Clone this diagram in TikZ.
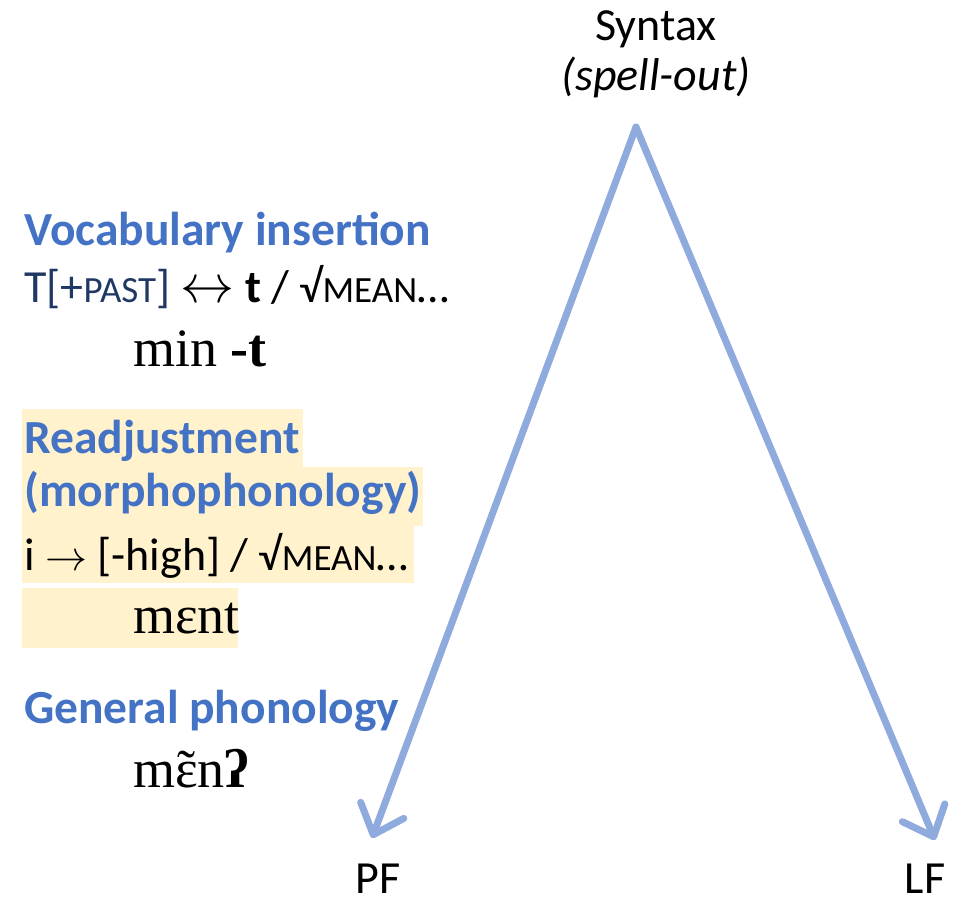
\documentclass[tikz,border=0pt]{standalone}
\usepackage{fontspec}
\usepackage{graphicx}
\setmainfont{Carlito}
\newfontfamily\ipa{Liberation Serif}
\usetikzlibrary{arrows.meta}
\definecolor{hblue}{HTML}{4472C4}
\definecolor{navy}{HTML}{203864}
\definecolor{arrowblue}{HTML}{8FAADC}
\definecolor{hilite}{HTML}{FFF2CC}
\newcommand\smc[1]{{\fontsize{37}{40}\selectfont #1}}
\newcommand\nasaleps{{\ooalign{ɛ\cr\hidewidth˜\hidewidth\cr}}}
\newcommand\lrarr{\resizebox{54pt}{!}{$\leftrightarrow$}}
\newcommand\rarr{\resizebox{42pt}{!}{$\rightarrow$}}
\tikzset{
  txt/.style={anchor=base west, inner sep=0pt, font=\fontsize{46}{55}\selectfont},
  head/.style={txt, font=\fontsize{47.5}{55}\selectfont\bfseries, text=hblue},
  form/.style={anchor=base west, inner sep=0pt, font=\ipa\fontsize{54}{60}\selectfont},
  lbl/.style={anchor=base, inner sep=0pt, text depth=0pt, font=\fontsize{46}{55}\selectfont},
  flow/.style={draw=arrowblue, line width=7pt, line cap=round,
    -{Straight Barb[length=26pt, width=46pt, line cap=round, line join=round]}},
}
\begin{document}
\begin{tikzpicture}[x=1pt,y=-1pt]
\useasboundingbox (0,0) rectangle (973,903);
% highlights
\fill[hilite] (22,409) rectangle (303,467);
\fill[hilite] (22,467) rectangle (423,526);
\fill[hilite] (22,526) rectangle (414,583);
\fill[hilite] (22,588) rectangle (238,648);
% top labels
\node[lbl] (syn) at (656,40) {Syntax};
\node[lbl] (spell) at (656,90) {\itshape (spell-out)};
\coordinate (apex) at (636,127);
\node[lbl] (pf) at (378,893) {PF};
\node[lbl] (lf) at (925,893) {LF};
\coordinate (pfend) at (372,838);
\coordinate (lfend) at (935,840);
\draw[flow] (apex) -- (pfend);
\draw[flow] (apex) -- (lfend);
% left column
\node[head] (vi) at (24,245) {Vocabulary insertion};
\node[txt] (vrule) at (24,302) {\textcolor{navy}{T[+\smc{PAST}]} \lrarr{} \textbf{t} / √\smc{MEAN}…};
\node[form] (f1) at (133,366) {min \textbf{-t}};
\node[head] (ra) at (24,453) {Readjustment};
\node[head] (mp) at (24,506) {(morphophonology)};
\node[txt] (rrule) at (24,570) {i \rarr{} [-high] / √\smc{MEAN}…};
\node[form] (f2) at (133,633) {mɛnt};
\node[head] (gp) at (24,723) {General phonology};
\node[form] (f3) at (133,787) {m\nasaleps n\textbf{ʔ}};
\end{tikzpicture}
\end{document}
